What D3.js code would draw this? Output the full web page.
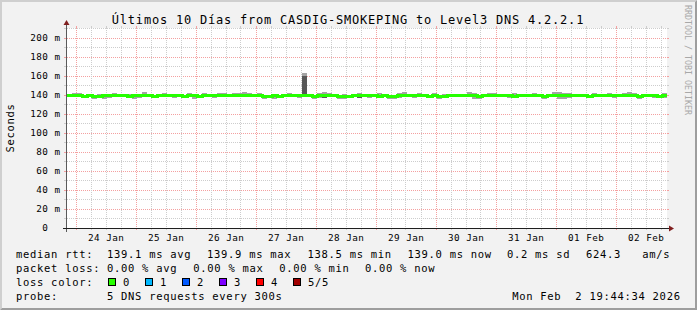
<!DOCTYPE html>
<html><head><meta charset="utf-8">
<script src="https://cdn.jsdelivr.net/npm/d3@7"></script>
<style>
html,body{margin:0;padding:0;background:#f2f2f2;}
svg{display:block;}
text{font-family:"DejaVu Sans Mono",monospace;white-space:pre;fill:#000;}
</style></head><body>
<svg id="chart" width="697" height="310"></svg>
<script>
// ---------------- data ----------------
const chartTitle = "Últimos 10 Días from CASDIG-SMOKEPING to Level3 DNS 4.2.2.1";
const yAxisTitle = "Seconds";
const watermark = "RRDTOOL / TOBI OETIKER";
const startTime = new Date(2026, 0, 23, 20, 24);
const endTime = new Date(2026, 1, 2, 20, 24);
const binHours = 2;
const yTickValues = [0, 20, 40, 60, 80, 100, 120, 140, 160, 180, 200]; // ms
const xTickDays = ["24 Jan","25 Jan","26 Jan","27 Jan","28 Jan","29 Jan","30 Jan","31 Jan","01 Feb","02 Feb"];

// median rtt per 2h bin (ms)
const medianRtt = [
139.0,139.2,139.1,138.9,139.0,138.8,138.9,139.0,139.1,139.0,
139.2,139.0,138.9,139.0,139.1,139.3,139.0,138.9,139.1,139.0,
139.2,139.1,139.0,138.9,139.3,139.0,138.8,139.1,139.0,139.2,
139.3,139.1,139.0,139.4,139.2,139.5,139.3,139.1,139.2,138.9,
138.8,139.0,138.9,139.0,139.1,139.2,139.1,139.9,139.3,138.9,
139.0,139.4,139.3,139.1,138.8,138.7,138.9,139.0,139.2,139.0,
139.1,139.0,138.9,139.1,138.8,138.9,139.2,139.4,139.1,139.0,
139.1,139.0,138.9,139.3,138.9,138.8,139.0,139.1,139.0,139.2,
139.4,139.1,138.9,139.0,139.3,139.2,139.0,139.1,139.0,138.9,
139.1,139.0,139.2,139.0,139.1,138.8,139.0,139.4,139.5,139.3,
139.2,139.0,139.1,139.0,138.9,139.1,139.0,139.2,139.1,139.0,
139.1,139.4,139.5,139.3,138.9,139.0,139.1,139.0,138.9,139.0];
// highest ping per bin (ms)
const pingMax = [
140.5,142.6,142.2,140.4,140.5,140.4,140.6,140.5,140.4,141.8,
140.5,140.4,140.6,140.5,140.4,142.8,140.5,140.4,140.6,141.7,
140.4,140.5,140.6,140.4,142.4,140.5,140.4,141.8,140.5,140.4,
142.5,142.0,140.6,142.6,142.3,142.9,142.4,140.5,142.5,140.4,
140.5,140.6,140.4,140.5,141.8,140.4,140.5,163.5,140.6,140.5,
142.6,143.0,142.2,140.5,140.4,140.6,140.5,140.4,142.5,140.5,
140.6,140.4,141.8,140.6,140.4,140.5,142.4,142.7,140.5,140.4,
141.8,140.5,140.4,142.5,140.5,140.6,140.4,140.5,140.6,140.5,
142.8,142.5,140.5,140.4,142.4,142.2,140.5,140.6,140.4,141.8,
140.6,140.4,140.5,141.7,140.5,140.4,140.5,142.8,143.0,142.6,
142.4,140.5,140.4,140.6,140.5,141.8,140.5,140.6,141.7,140.5,
140.6,142.6,142.8,142.4,140.5,140.4,140.6,140.5,140.4,142.5];
// 4th ping per bin (ms)
const ping4 = [
139.6,139.8,139.7,139.6,139.5,139.6,139.5,139.6,139.7,139.6,
139.6,139.5,139.6,139.6,139.7,139.9,139.6,139.5,139.6,139.6,
139.7,139.6,139.6,139.5,139.8,139.6,139.5,139.7,139.6,139.7,
139.9,139.7,139.6,140.0,139.8,140.1,139.9,139.7,139.8,139.5,
139.5,139.6,139.5,139.6,139.7,139.8,139.7,160.0,139.9,139.5,
139.6,140.0,139.9,139.7,139.5,139.4,139.5,139.6,139.8,139.6,
139.7,139.6,139.5,139.7,139.5,139.5,139.8,140.0,139.7,139.6,
139.7,139.6,139.5,139.9,139.5,139.5,139.6,139.7,139.6,139.8,
140.0,139.7,139.5,139.6,139.9,139.8,139.6,139.7,139.6,139.5,
139.7,139.6,139.8,139.6,139.7,139.5,139.6,140.0,140.1,139.9,
139.8,139.6,139.7,139.6,139.5,139.7,139.6,139.8,139.7,139.6,
139.7,140.0,140.1,139.9,139.5,139.6,139.7,139.6,139.5,139.6];
// 2nd ping per bin (ms)
const ping2 = [
138.5,138.6,138.5,138.4,138.5,138.3,138.4,138.5,138.6,138.5,
138.6,138.5,138.4,138.5,138.6,138.7,138.5,138.4,138.6,138.5,
138.6,138.6,138.5,138.4,138.7,138.5,138.3,138.6,138.5,138.6,
138.7,138.6,138.5,138.8,138.6,138.9,138.7,138.6,138.6,138.4,
138.3,138.5,138.4,138.5,138.6,138.6,138.6,139.1,138.7,138.4,
138.5,137.2,138.7,138.6,138.3,138.2,138.4,138.5,137.3,138.5,
138.6,138.5,138.4,138.6,138.3,138.4,138.6,138.8,138.6,138.5,
138.6,138.5,138.4,138.7,138.4,138.3,138.5,138.6,138.5,138.6,
138.8,138.6,138.4,138.5,138.7,138.6,138.5,138.6,138.5,138.4,
138.6,138.5,138.6,138.5,138.6,138.3,138.5,138.8,138.9,138.7,
138.6,138.5,138.6,138.5,138.4,138.6,138.5,138.6,138.6,138.5,
138.6,138.8,138.9,138.7,138.4,138.5,138.6,138.5,138.4,138.5];
// lowest ping per bin (ms)
const pingMin = [
137.6,137.7,137.5,136.9,137.7,136.2,136.4,136.1,136.5,137.6,
137.5,137.7,137.6,136.3,136.5,137.7,137.6,137.5,137.6,137.7,
137.6,136.9,137.6,137.7,137.6,136.2,136.4,137.6,137.5,136.9,
137.6,137.7,137.5,137.6,137.7,137.6,137.5,137.6,137.7,136.1,
136.4,136.2,136.5,137.6,137.5,137.7,136.9,137.8,137.5,136.3,
136.5,136.6,137.6,137.5,136.2,136.1,136.4,137.6,136.5,137.7,
136.9,137.5,137.6,137.7,136.3,136.2,136.5,137.6,137.5,136.9,
137.6,137.5,137.6,137.7,136.2,136.4,137.6,137.5,137.7,137.6,
137.5,136.3,136.2,137.6,137.7,137.5,137.6,137.7,136.9,137.6,
137.7,137.6,137.5,137.6,137.7,136.3,137.6,137.5,136.2,136.1,
136.4,137.6,137.7,137.5,136.9,137.7,137.5,137.6,137.7,136.9,
137.6,137.7,137.5,137.6,136.3,137.6,137.7,136.9,137.6,136.5];

const lossLabels = ["0", "1", "2", "3", "4", "5/5"];
const lossColors = ["#26ff00", "#00b8ff", "#0059ff", "#7e00ff", "#ff0000", "#a10000"];
const legendRtt = ["median rtt:", "139.1 ms avg", "139.9 ms max", "138.5 ms min", "139.0 ms now", "0.2 ms sd", "624.3   am/s"];
const legendLoss = ["packet loss:", "0.00 % avg", "0.00 % max", "0.00 % min", "0.00 % now"];
const legendLossColorTitle = "loss color:";
const legendProbe = ["probe:", "5 DNS requests every 300s"];
const timestampText = "Mon Feb  2 19:44:34 2026";

// ---------------- drawing ----------------
const W = 697, H = 310;
const svg = d3.select("#chart");
svg.append("rect").attr("width", W).attr("height", H).attr("fill", "#f2f2f2");
svg.append("path").attr("d", `M0,0L${W},0L${W-2},2L2,2L2,${H-2}L0,${H}Z`).attr("fill", "#cfcfcf");
svg.append("path").attr("d", `M2,${H-2}L${W-2},${H-2}L${W-2},2L${W},0L${W},${H}L0,${H}Z`).attr("fill", "#9e9e9e");

const X0 = 67, X1 = 667, Y0 = 228, Y1 = 28;
const x = d3.scaleTime().domain([startTime, endTime]).range([X0, X1]);
const y = d3.scaleLinear().domain([0, 200 / 0.95]).range([Y0, Y1]);

svg.append("rect").attr("x", X0).attr("y", Y1).attr("width", X1 - X0).attr("height", Y0 - Y1).attr("fill", "#ffffff");

const minorCol = "#cdcdcd", majorCol = "#f4a0a0";
const gGrid = svg.append("g").attr("shape-rendering", "crispEdges");
const yMinor = d3.range(0, y.domain()[1], 10).filter(v => v > 0 && yTickValues.indexOf(v) < 0);
function hline(v, col) {
  const yy = Math.floor(y(v)) + 0.5;
  gGrid.append("line").attr("x1", X0).attr("x2", X1).attr("y1", yy).attr("y2", yy)
    .attr("stroke", col).attr("stroke-dasharray", "1,1");
  gGrid.append("line").attr("x1", X0 - 3).attr("x2", X0).attr("y1", yy).attr("y2", yy).attr("stroke", col);
  gGrid.append("line").attr("x1", X1).attr("x2", X1 + 2).attr("y1", yy).attr("y2", yy).attr("stroke", col);
}
yMinor.forEach(v => hline(v, minorCol));
yTickValues.filter(v => v > 0).forEach(v => hline(v, majorCol));
function vline(t, col) {
  const xx = Math.floor(x(t)) + 0.5;
  gGrid.append("line").attr("x1", xx).attr("x2", xx).attr("y1", Y1).attr("y2", Y0)
    .attr("stroke", col).attr("stroke-dasharray", "1,1");
  gGrid.append("line").attr("x1", xx).attr("x2", xx).attr("y1", Y0).attr("y2", Y0 + 2).attr("stroke", col);
  gGrid.append("line").attr("x1", xx).attr("x2", xx).attr("y1", Y1 - 2).attr("y2", Y1).attr("stroke", col);
}
d3.timeHour.every(6).range(startTime, endTime).filter(t => t.getHours() !== 0).forEach(t => vline(t, minorCol));
d3.timeDay.range(startTime, endTime).forEach(t => vline(t, majorCol));

// data: smoke
const binMs = binHours * 3600 * 1000;
const binStart = i => new Date(startTime.getTime() + i * binMs);
const gData = svg.append("g").attr("shape-rendering", "crispEdges");
medianRtt.forEach((m, i) => {
  const xa = Math.round(x(binStart(i))), xb = Math.round(x(binStart(i + 1)));
  const yt = Math.round(y(pingMax[i])), yb = Math.round(y(pingMin[i]));
  gData.append("rect").attr("x", xa).attr("width", xb - xa).attr("y", yt).attr("height", yb - yt).attr("fill", "#a4a4a4");
});
medianRtt.forEach((m, i) => {
  const xa = Math.round(x(binStart(i))), xb = Math.round(x(binStart(i + 1)));
  const yt = Math.round(y(ping4[i])), yb = Math.round(y(ping2[i]));
  gData.append("rect").attr("x", xa).attr("width", xb - xa).attr("y", yt).attr("height", Math.max(1, yb - yt)).attr("fill", "#585858");
});
// median line
const linePts = medianRtt.map((m, i) => [Math.round(x(binStart(i))), Math.floor(y(m)) + 0.5]);
linePts.push([Math.round(x(binStart(medianRtt.length))), Math.floor(y(medianRtt[medianRtt.length - 1])) + 0.5]);
svg.append("path").attr("d", d3.line().curve(d3.curveStepAfter)(linePts))
  .attr("fill", "none").attr("stroke", lossColors[0]).attr("stroke-width", 3)
  .attr("shape-rendering", "crispEdges");

// axes
const axisG = svg.append("g").attr("shape-rendering", "crispEdges");
axisG.append("line").attr("x1", X0 - 0.5).attr("x2", X0 - 0.5).attr("y1", Y0 + 4).attr("y2", Y1 - 4).attr("stroke", "#5a5a5a");
axisG.append("line").attr("x1", X0 - 4).attr("x2", X1 + 4).attr("y1", Y0 + 0.5).attr("y2", Y0 + 0.5).attr("stroke", "#1f1f1f");
svg.append("path").attr("d", `M${X0-3.5},${Y1-3}L${X0+2.5},${Y1-3}L${X0-0.5},${Y1-8}Z`).attr("fill", "#801f1f");
svg.append("path").attr("d", `M${X1+2},${Y0-2.5}L${X1+2},${Y0+3.5}L${X1+7},${Y0+0.5}Z`).attr("fill", "#801f1f");

// y labels
const axisFont = 9.3, axisLS = 0.45;
svg.append("g").selectAll("text").data(yTickValues).join("text")
  .attr("x", 60 + axisLS).attr("y", d => y(d) + 3.4)
  .attr("text-anchor", "end").attr("font-size", axisFont).attr("letter-spacing", axisLS)
  .text(d => d === 0 ? "0  " : d + " m");
// x labels (centred at noon of each day)
svg.append("g").selectAll("text").data(xTickDays).join("text")
  .attr("x", (d, i) => x(d3.timeHour.offset(d3.timeDay.ceil(startTime), 24 * i + 12)) + axisLS / 2)
  .attr("y", 241)
  .attr("text-anchor", "middle").attr("font-size", axisFont).attr("letter-spacing", axisLS)
  .text(d => d);

// title
svg.append("text").attr("x", 348).attr("y", 24).attr("text-anchor", "middle")
  .attr("font-size", 12).attr("letter-spacing", 0.78).text(chartTitle);
// y axis title
svg.append("text").attr("transform", "translate(14,128) rotate(-90)").attr("text-anchor", "middle")
  .attr("font-size", 10.5).attr("letter-spacing", 0.7).text(yAxisTitle);
// watermark
svg.append("text").attr("transform", "translate(685,5) rotate(90)").attr("text-anchor", "start")
  .attr("font-size", 8.3).style("fill", "#a8a8a8").text(watermark);

// legend
const lf = 10.5, lls = 0.7;
const leg = svg.append("g").attr("font-size", lf).attr("letter-spacing", lls);
const rttX = [16, 107, 207, 307.5, 407.5, 507, 586];
legendRtt.forEach((s, i) => leg.append("text").attr("x", rttX[i]).attr("y", 257.5).text(s));
const lossX = [16, 107, 193.3, 279.3, 365];
legendLoss.forEach((s, i) => leg.append("text").attr("x", lossX[i]).attr("y", 271.5).text(s));
leg.append("text").attr("x", 16).attr("y", 285.5).text(legendLossColorTitle);
const boxX = [108.5, 145.5, 182.5, 219.5, 256.5, 293.5];
lossLabels.forEach((s, i) => {
  leg.append("rect").attr("x", boxX[i]).attr("y", 278.5).attr("width", 7).attr("height", 7)
    .attr("fill", lossColors[i]).attr("stroke", "#000").attr("stroke-width", 1);
  leg.append("text").attr("x", boxX[i] + 14.5).attr("y", 285.5).text(s);
});
leg.append("text").attr("x", 16).attr("y", 299.5).text(legendProbe[0]);
leg.append("text").attr("x", 107).attr("y", 299.5).text(legendProbe[1]);
leg.append("text").attr("x", 680 + lls).attr("y", 299.5).attr("text-anchor", "end").text(timestampText);
</script>
</body></html>
